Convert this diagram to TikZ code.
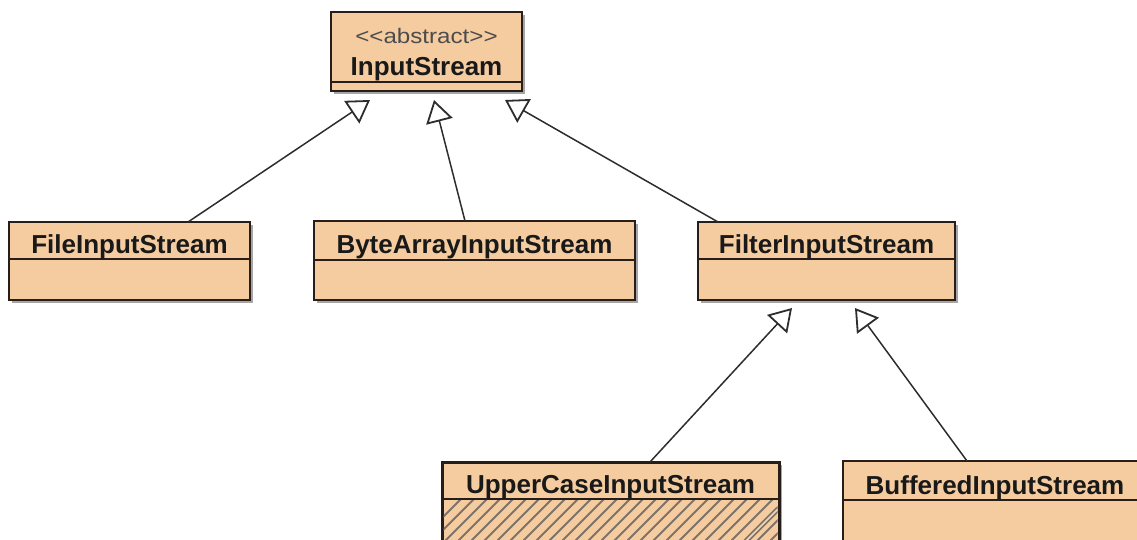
\documentclass[tikz,border=0pt]{standalone}
\usepackage{fontspec}
\setmainfont{Liberation Sans}
\newfontfamily\stereofont[FakeStretch=1.15]{Liberation Sans}
\usetikzlibrary{arrows.meta,shadows,calc}
\definecolor{classfill}{RGB}{245,204,160}
\definecolor{classline}{RGB}{40,30,25}
\definecolor{linkgray}{RGB}{45,45,45}
\definecolor{hatchgray}{RGB}{125,115,105}

\begin{document}
\begin{tikzpicture}[x=1pt,y=-1pt,
  cls/.style={draw=classline, line width=1.6pt, fill=classfill, rectangle,
    inner sep=0pt, outer sep=0pt, anchor=north west,
    drop shadow={shadow xshift=3pt, shadow yshift=-3pt, fill=black, opacity=0.35}},
  title/.style={font=\bfseries\fontsize{26}{30}\selectfont, text=black!90,
    anchor=base, inner sep=0pt},
  stereo/.style={font=\stereofont\fontsize{21}{25}\selectfont, text=black!70,
    anchor=base, inner sep=0pt},
  divider/.style={draw=classline, line width=1.4pt},
  hatch/.style={draw=hatchgray, line width=1.9pt},
  inh/.style={draw=linkgray, line width=1.5pt,
    -{Triangle[open, length=22pt, width=27pt, line width=1.8pt]}},
]
\useasboundingbox (0,0) rectangle (1137,539);
\clip (0,0) rectangle (1137,539);

% abstract base class
\node[cls, minimum width=191pt, minimum height=79pt] (input) at (331,12) {};
\draw[divider] (input.west |- 0,82) -- (input.east |- 0,82);
\node[stereo] (inputS) at (input.north |- 0,43) {<<abstract>>};
\node[title] (inputT) at (input.north |- 0,75) {InputStream};

% direct subclasses
\node[cls, minimum width=241pt, minimum height=78pt] (file) at (9,222) {};
\draw[divider] (file.west |- 0,259) -- (file.east |- 0,259);
\node[title] (fileT) at (file.north |- 0,253) {FileInputStream};

\node[cls, minimum width=321pt, minimum height=79pt] (bytes) at (314,221) {};
\draw[divider] (bytes.west |- 0,260) -- (bytes.east |- 0,260);
\node[title] (bytesT) at (bytes.north |- 0,253) {ByteArrayInputStream};

\node[cls, minimum width=257pt, minimum height=78pt] (filter) at (698,222) {};
\draw[divider] (filter.west |- 0,259) -- (filter.east |- 0,259);
\node[title] (filterT) at (filter.north |- 0,253) {FilterInputStream};

% filter subclasses
\node[cls, line width=3pt, minimum width=337pt, minimum height=120pt] (upper) at (442,462) {};
\begin{scope}
  \clip ($(upper.west |- 0,499)+(1.5,0)$) rectangle ($(upper.south east)+(-1.5,0)$);
  \foreach \k in {0,...,40}
    \draw[hatch] (400+\k*13,560) -- ++(110,-110);
  \draw[hatchgray, line width=5pt] (746,541) -- (778,509);
  \draw[classfill!80!white, line width=1.5pt] (746,541) -- (778,509);
\end{scope}
\draw[divider] (upper.west |- 0,499) -- (upper.east |- 0,499);
\node[title] (upperT) at (upper.north |- 0,493) {UpperCaseInputStream};

\node[cls, minimum width=304pt, minimum height=120pt] (buff) at (843,461) {};
\draw[divider] (buff.west |- 0,500) -- (buff.east |- 0,500);
\node[title] (buffT) at (buff.north |- 0,494) {BufferedInputStream};

% generalization arrows
\coordinate (tipFile) at (370,100);
\coordinate (tipBytes) at (434,100);
\coordinate (tipFilter) at (505,100);
\coordinate (tipUpper) at (792,308);
\coordinate (tipBuff) at (855,308);

\draw[inh] (file.north -| 188,0) -- (tipFile);
\draw[inh] (bytes.north -| 465,0) -- (tipBytes);
\draw[inh] (filter.north -| 718,0) -- (tipFilter);
\draw[inh] (upper.north -| 650,0) -- (tipUpper);
\draw[inh] (buff.north -| 967,0) -- (tipBuff);
\end{tikzpicture}
\end{document}
